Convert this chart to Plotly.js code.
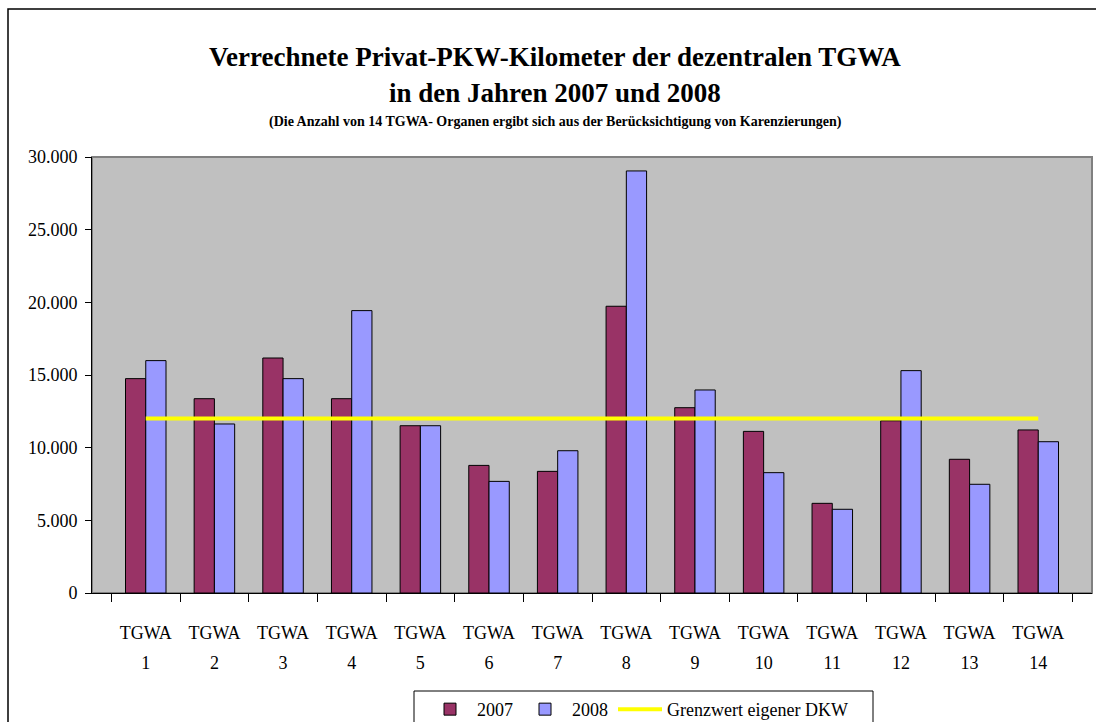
<!DOCTYPE html>
<html>
<head>
<meta charset="utf-8">
<script src="https://cdn.plot.ly/plotly-3.0.1.min.js"></script>
<style>html,body{margin:0;padding:0;background:#fff;}#chart{width:1096px;height:722px;}</style>
</head>
<body>
<div id="chart"></div>
<script>
var categories = ["TGWA 1","TGWA 2","TGWA 3","TGWA 4","TGWA 5","TGWA 6","TGWA 7","TGWA 8","TGWA 9","TGWA 10","TGWA 11","TGWA 12","TGWA 13","TGWA 14"];
var tickTop = ["TGWA","TGWA","TGWA","TGWA","TGWA","TGWA","TGWA","TGWA","TGWA","TGWA","TGWA","TGWA","TGWA","TGWA"];
var tickBottom = ["1","2","3","4","5","6","7","8","9","10","11","12","13","14"];
var values2007 = [14750, 13370, 16170, 13370, 11510, 8780, 8370, 19730, 12750, 11120, 6170, 11850, 9200, 11220];
var values2008 = [15990, 11630, 14750, 19430, 11510, 7680, 9790, 29040, 13970, 8280, 5760, 15300, 7480, 10410];
var grenzwert = [12000, 12000, 12000, 12000, 12000, 12000, 12000, 12000, 12000, 12000, 12000, 12000, 12000, 12000];
var seriesNames = ["2007", "2008", "Grenzwert eigener DKW"];
var titleLines = ["Verrechnete Privat-PKW-Kilometer der dezentralen TGWA", "in den Jahren 2007 und 2008", "(Die Anzahl von 14 TGWA- Organen ergibt sich aus der Berücksichtigung von Karenzierungen)"];

var serif = "'Liberation Serif', 'Times New Roman', Times, serif";

var traces = [
  {type: "bar", name: seriesNames[0], x: categories, y: values2007,
   marker: {color: "#993366", line: {color: "#000000", width: 1}}},
  {type: "bar", name: seriesNames[1], x: categories, y: values2008,
   marker: {color: "#9999FF", line: {color: "#000000", width: 1}}},
  {type: "scatter", mode: "lines", name: seriesNames[2], x: categories, y: grenzwert,
   line: {color: "#FFFF00", width: 4}},
  {type: "scatter", mode: "markers", x: categories, y: grenzwert, xaxis: "x2",
   marker: {opacity: 0}, showlegend: false, hoverinfo: "skip"}
];

var layout = {
  width: 1096, height: 722,
  margin: {l: 92, r: 4, t: 157, b: 129, autoexpand: false},
  paper_bgcolor: "#ffffff",
  plot_bgcolor: "#C0C0C0",
  separators: ",.",
  font: {family: serif, size: 17, color: "#000000"},
  barmode: "group",
  bargap: 0.41,
  bargroupgap: 0,
  showlegend: true,
  legend: {
    orientation: "h", x: 0.546, xanchor: "center",
    yref: "container", y: 0.043, yanchor: "top",
    bordercolor: "rgba(0,0,0,0)", borderwidth: 0, bgcolor: "rgba(0,0,0,0)",
    font: {family: serif, size: 18}, traceorder: "normal",
    itemwidth: 44, tracegroupgap: 0
  },
  xaxis: {
    type: "category", categoryarray: categories, categoryorder: "array",
    tickvals: categories, ticktext: tickTop,
    showline: true, linecolor: "#000000", linewidth: 1,
    ticks: "outside", tickson: "boundaries", ticklen: 8, tickcolor: "#000000",
    showgrid: false, zeroline: false,
    tickfont: {family: serif, size: 18}, ticklabelstandoff: 23,
    fixedrange: true
  },
  xaxis2: {
    type: "category", categoryarray: categories, categoryorder: "array",
    overlaying: "x", anchor: "y", side: "bottom", matches: "x",
    tickvals: categories, ticktext: tickBottom,
    showline: false, ticks: "", showgrid: false, zeroline: false,
    tickfont: {family: serif, size: 18}, ticklabelstandoff: 57,
    fixedrange: true
  },
  yaxis: {
    range: [0, 30000], dtick: 5000, tick0: 0,
    tickformat: ",d",
    showline: true, linecolor: "#000000", linewidth: 1,
    ticks: "outside", ticklen: 6, tickcolor: "#000000",
    showgrid: false, zeroline: false,
    tickfont: {family: serif, size: 18}, ticklabelstandoff: 4,
    fixedrange: true
  },
  shapes: [
    {type: "rect", xref: "paper", yref: "paper", x0: 0, x1: 1, y0: 0, y1: 1,
     line: {color: "#808080", width: 2}, layer: "below"},
    {type: "rect", xref: "paper", yref: "paper", x0: -0.084, x1: 1.03, y0: -0.36, y1: 1.3394,
     line: {color: "#000000", width: 1.5}, fillcolor: "rgba(0,0,0,0)"},
    {type: "rect", xref: "paper", yref: "paper", x0: 0.322, x1: 0.781, y0: -0.36, y1: -0.2248,
     line: {color: "#000000", width: 1}, fillcolor: "rgba(0,0,0,0)"}
  ],
  annotations: [
    {xref: "paper", yref: "paper", x: 0.463, y: 1.229, xanchor: "center", yanchor: "middle",
     text: titleLines[0], showarrow: false,
     font: {family: serif, size: 27, weight: "bold"}},
    {xref: "paper", yref: "paper", x: 0.463, y: 1.146, xanchor: "center", yanchor: "middle",
     text: titleLines[1], showarrow: false,
     font: {family: serif, size: 27, weight: "bold"}},
    {xref: "paper", yref: "paper", x: 0.463, y: 1.080, xanchor: "center", yanchor: "middle",
     text: titleLines[2], showarrow: false,
     font: {family: serif, size: 14, weight: "bold"}}
  ]
};

Plotly.newPlot("chart", traces, layout, {displayModeBar: false, staticPlot: true});
</script>
</body>
</html>
